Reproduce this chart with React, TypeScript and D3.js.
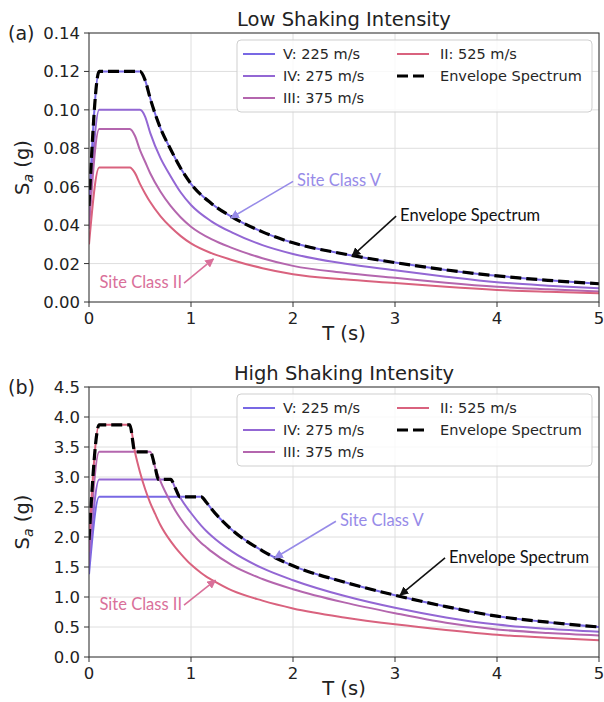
import React from 'react';
import * as d3 from 'd3';

// ---------- DATA ----------
const periodsLow = [0, 0.1, 0.2, 0.3, 0.4, 0.45, 0.5, 0.55, 0.6, 0.7, 0.8, 0.9, 1.0, 1.2, 1.4, 1.7, 2.0, 2.5, 3.0, 3.5, 4.0, 4.5, 5.0];
const lowV = [0.05, 0.12, 0.12, 0.12, 0.12, 0.12, 0.12, 0.1155, 0.106, 0.0905, 0.0795, 0.0695, 0.0615, 0.0513, 0.0443, 0.0365, 0.0308, 0.025, 0.0205, 0.0167, 0.0136, 0.0113, 0.0095];
const lowIV = [0.042, 0.1, 0.1, 0.1, 0.1, 0.1, 0.1, 0.0965, 0.088, 0.075, 0.0655, 0.057, 0.0505, 0.042, 0.0362, 0.0296, 0.025, 0.02, 0.0165, 0.0132, 0.0103, 0.0085, 0.0071];
const lowIII = [0.038, 0.09, 0.09, 0.09, 0.09, 0.0865, 0.079, 0.073, 0.067, 0.0575, 0.05, 0.044, 0.0392, 0.0327, 0.0282, 0.0228, 0.0188, 0.0152, 0.0126, 0.01, 0.0079, 0.0066, 0.0055];
const lowII = [0.03, 0.07, 0.07, 0.07, 0.07, 0.0672, 0.0615, 0.0565, 0.052, 0.0447, 0.039, 0.0343, 0.0305, 0.0254, 0.0219, 0.0176, 0.0145, 0.0118, 0.0099, 0.0079, 0.0063, 0.0053, 0.0045];
const envPeriodsLow = [0, 0.1, 0.2, 0.3, 0.4, 0.45, 0.5, 0.55, 0.6, 0.7, 0.8, 0.9, 1.0, 1.2, 1.4, 1.7, 2.0, 2.5, 3.0, 3.5, 4.0, 4.5, 5.0];
const envLow = [0.05, 0.12, 0.12, 0.12, 0.12, 0.12, 0.12, 0.1155, 0.106, 0.0905, 0.0795, 0.0695, 0.0615, 0.0513, 0.0443, 0.0365, 0.0308, 0.025, 0.0205, 0.0167, 0.0136, 0.0113, 0.0095];

const periodsHigh = [0, 0.1, 0.2, 0.3, 0.4, 0.45, 0.5, 0.55, 0.6, 0.65, 0.7, 0.8, 0.85, 0.9, 1.0, 1.1, 1.15, 1.2, 1.4, 1.7, 2.0, 2.5, 3.0, 3.5, 4.0, 4.5, 5.0];
const highV = [1.38, 2.67, 2.67, 2.67, 2.67, 2.67, 2.67, 2.67, 2.67, 2.67, 2.67, 2.67, 2.67, 2.67, 2.67, 2.67, 2.58, 2.47, 2.12, 1.77, 1.52, 1.25, 1.03, 0.84, 0.68, 0.58, 0.5];
const highIV = [1.55, 2.96, 2.96, 2.96, 2.96, 2.96, 2.96, 2.96, 2.96, 2.96, 2.96, 2.96, 2.8, 2.64, 2.4, 2.19, 2.1, 2.02, 1.76, 1.48, 1.28, 1.02, 0.82, 0.66, 0.54, 0.47, 0.42];
const highIII = [1.75, 3.42, 3.42, 3.42, 3.42, 3.42, 3.42, 3.42, 3.42, 3.15, 2.93, 2.58, 2.43, 2.3, 2.08, 1.9, 1.83, 1.76, 1.53, 1.3, 1.13, 0.91, 0.73, 0.57, 0.46, 0.4, 0.36];
const highII = [1.95, 3.87, 3.87, 3.87, 3.87, 3.42, 3.08, 2.8, 2.57, 2.38, 2.2, 1.93, 1.82, 1.72, 1.54, 1.4, 1.34, 1.29, 1.11, 0.94, 0.81, 0.66, 0.545, 0.45, 0.37, 0.32, 0.28];
const envPeriodsHigh = [0, 0.1, 0.4, 0.45, 0.6, 0.65, 0.68, 0.8, 0.85, 0.89, 1.1, 1.15, 1.2, 1.4, 1.7, 2.0, 2.5, 3.0, 3.5, 4.0, 4.5, 5.0];
const envHigh = [1.95, 3.87, 3.87, 3.42, 3.42, 3.15, 2.96, 2.96, 2.8, 2.67, 2.67, 2.58, 2.47, 2.12, 1.77, 1.52, 1.25, 1.03, 0.84, 0.68, 0.58, 0.5];

const seriesNames = ['V: 225 m/s', 'IV: 275 m/s', 'III: 375 m/s', 'II: 525 m/s'];
const seriesColors = ['#7868e4', '#9367d4', '#b466ae', '#d9627e'];
const envelopeName = 'Envelope Spectrum';

const xTicks = [0, 1, 2, 3, 4, 5];
const yTicksLow = [0, 0.02, 0.04, 0.06, 0.08, 0.1, 0.12, 0.14];
const yTicksHigh = [0, 0.5, 1.0, 1.5, 2.0, 2.5, 3.0, 3.5, 4.0, 4.5];

type Ann = { text: string; color: string; tx: number; ty: number; anchor: 'start' | 'end'; headT: number; headV: number };
const annotationsLow: Ann[] = [
  { text: 'Site Class V', color: '#978be8', tx: 2.04, ty: 0.0633, anchor: 'start', headT: 1.39, headV: 0.0437 },
  { text: 'Envelope Spectrum', color: '#111111', tx: 3.05, ty: 0.0452, anchor: 'start', headT: 2.58, headV: 0.0239 },
  { text: 'Site Class II', color: '#d9709a', tx: 0.912, ty: 0.0104, anchor: 'end', headT: 1.22, headV: 0.0224 },
];
const annotationsHigh: Ann[] = [
  { text: 'Site Class V', color: '#978be8', tx: 2.46, ty: 2.28, anchor: 'start', headT: 1.82, headV: 1.65 },
  { text: 'Envelope Spectrum', color: '#111111', tx: 3.53, ty: 1.67, anchor: 'start', headT: 3.05, headV: 1.03 },
  { text: 'Site Class II', color: '#d9709a', tx: 0.912, ty: 0.88, anchor: 'end', headT: 1.24, headV: 1.28 },
];

// ---------- LAYOUT ----------
const W = 604;
const H = 702;
const plotLeft = 89;
const plotRight = 599;
const FONT = 'DejaVu Sans, sans-serif';
const ANN_FONT = 'Lato, Open Sans, sans-serif';

type PanelProps = {
  top: number;
  bottom: number;
  yMax: number;
  yTicks: number[];
  yFmt: string;
  periods: number[];
  series: number[][];
  envPeriods: number[];
  env: number[];
  title: string;
  label: string;
  anns: Ann[];
  id: string;
};

function Panel(p: PanelProps) {
  const x = d3.scaleLinear().domain([0, 5]).range([plotLeft, plotRight]);
  const y = d3.scaleLinear().domain([0, p.yMax]).range([p.bottom, p.top]);
  const fmt = d3.format(p.yFmt);
  const line = d3
    .line<[number, number]>()
    .x((d) => x(d[0]))
    .y((d) => y(d[1]))
    .curve(d3.curveMonotoneX);
  const clipId = `clip-${p.id}`;

  const legW = 355;
  const legH = 72;
  const legX = plotRight - 7 - legW;
  const legY = p.top + 7;
  const rowY = [21, 43, 65].map((r) => p.top + r);
  const legendItems = [
    { name: seriesNames[0], color: seriesColors[0], col: 0, row: 0, dash: false },
    { name: seriesNames[1], color: seriesColors[1], col: 0, row: 1, dash: false },
    { name: seriesNames[2], color: seriesColors[2], col: 0, row: 2, dash: false },
    { name: seriesNames[3], color: seriesColors[3], col: 1, row: 0, dash: false },
    { name: envelopeName, color: '#000', col: 1, row: 1, dash: true },
  ];
  const colHandleX = [legX + 6, legX + 160];
  const colTextX = [legX + 46, legX + 203];

  return (
    <g>
      <defs>
        <clipPath id={clipId}>
          <rect x={plotLeft} y={p.top} width={plotRight - plotLeft} height={p.bottom - p.top} />
        </clipPath>
        {p.anns.map((a, i) => (
          <marker
            key={i}
            id={`arrow-${p.id}-${i}`}
            viewBox="0 0 10 10"
            refX={9}
            refY={5}
            markerWidth={9}
            markerHeight={9}
            markerUnits="userSpaceOnUse"
            orient="auto"
          >
            <path d="M0,0 L10,5 L0,10 Z" fill={a.color} />
          </marker>
        ))}
      </defs>
      {xTicks.map((t) => (
        <line key={`gx${t}`} x1={x(t)} x2={x(t)} y1={p.top} y2={p.bottom} stroke="#dedede" strokeWidth={1} />
      ))}
      {p.yTicks.map((t) => (
        <line key={`gy${t}`} x1={plotLeft} x2={plotRight} y1={y(t)} y2={y(t)} stroke="#dedede" strokeWidth={1} />
      ))}
      <g clipPath={`url(#${clipId})`}>
        {p.series.map((vals, i) => (
          <path
            key={i}
            d={line(p.periods.map((t, j) => [t, vals[j]] as [number, number])) || ''}
            fill="none"
            stroke={seriesColors[i]}
            strokeWidth={2}
          />
        ))}
        <path
          d={line(p.envPeriods.map((t, j) => [t, p.env[j]] as [number, number])) || ''}
          fill="none"
          stroke="#000"
          strokeWidth={3.2}
          strokeDasharray="11,5"
        />
      </g>
      <rect x={plotLeft} y={p.top} width={plotRight - plotLeft} height={p.bottom - p.top} fill="none" stroke="#333" strokeWidth={1} />
      {xTicks.map((t) => (
        <g key={`xt${t}`}>
          <line x1={x(t)} x2={x(t)} y1={p.bottom} y2={p.bottom + 5} stroke="#333" strokeWidth={1} />
          <text x={x(t)} y={p.bottom + 22} textAnchor="middle" fontFamily={FONT} fontSize={16.5} fill="#222">
            {t}
          </text>
        </g>
      ))}
      {p.yTicks.map((t) => (
        <g key={`yt${t}`}>
          <line x1={plotLeft - 5} x2={plotLeft} y1={y(t)} y2={y(t)} stroke="#333" strokeWidth={1} />
          <text x={plotLeft - 9} y={y(t) + 6} textAnchor="end" fontFamily={FONT} fontSize={16.5} fill="#222">
            {fmt(t)}
          </text>
        </g>
      ))}
      <text x={(plotLeft + plotRight) / 2} y={p.bottom + 38} textAnchor="middle" fontFamily={FONT} fontSize={19.5} fill="#222">
        T (s)
      </text>
      <text
        transform={`translate(29,${(p.top + p.bottom) / 2}) rotate(-90)`}
        textAnchor="middle"
        fontFamily={FONT}
        fontSize={19.5}
        fill="#222"
      >
        S
        <tspan fontStyle="italic" fontSize={14} dy={4}>
          a
        </tspan>
        <tspan dy={-4}> (g)</tspan>
      </text>
      <text x={(plotLeft + plotRight) / 2} y={p.top - 7} textAnchor="middle" fontFamily={FONT} fontSize={19.5} fill="#222">
        {p.title}
      </text>
      <text x={8} y={p.top + 7} fontFamily={FONT} fontSize={19} fill="#222">
        {p.label}
      </text>
      <rect x={legX} y={legY} width={legW} height={legH} rx={4} fill="#fff" fillOpacity={0.8} stroke="#cfcfcf" strokeWidth={1} />
      {legendItems.map((it, i) => (
        <g key={`lg${i}`}>
          <line
            x1={colHandleX[it.col]}
            x2={colHandleX[it.col] + 32}
            y1={rowY[it.row]}
            y2={rowY[it.row]}
            stroke={it.color}
            strokeWidth={it.dash ? 3.2 : 2}
            strokeDasharray={it.dash ? '11,5' : undefined}
          />
          <text x={colTextX[it.col]} y={rowY[it.row] + 5} fontFamily={FONT} fontSize={14.5} fill="#262626">
            {it.name}
          </text>
        </g>
      ))}
      {p.anns.map((a, i) => {
        const tx = x(a.tx);
        const ty = y(a.ty);
        const tailX = a.anchor === 'start' ? tx - 4 : tx + 2;
        return (
          <g key={`an${i}`}>
            <line
              x1={tailX}
              y1={ty + 1}
              x2={x(a.headT)}
              y2={y(a.headV)}
              stroke={a.color}
              strokeWidth={1.6}
              markerEnd={`url(#arrow-${p.id}-${i})`}
            />
            <text x={tx} y={ty + 6} textAnchor={a.anchor} fontFamily={ANN_FONT} fontSize={16.5} fill={a.color}>
              {a.text}
            </text>
          </g>
        );
      })}
    </g>
  );
}

export default function App() {
  return (
    <svg width={W} height={H} viewBox={`0 0 ${W} ${H}`} style={{ position: 'absolute', left: 0, top: 0, background: '#fff' }}>
      <rect width={W} height={H} fill="#fff" />
      <Panel
        id="low"
        top={33}
        bottom={302}
        yMax={0.14}
        yTicks={yTicksLow}
        yFmt=".2f"
        periods={periodsLow}
        series={[lowV, lowIV, lowIII, lowII]}
        envPeriods={envPeriodsLow}
        env={envLow}
        title="Low Shaking Intensity"
        label="(a)"
        anns={annotationsLow}
      />
      <Panel
        id="high"
        top={387}
        bottom={657}
        yMax={4.5}
        yTicks={yTicksHigh}
        yFmt=".1f"
        periods={periodsHigh}
        series={[highV, highIV, highIII, highII]}
        envPeriods={envPeriodsHigh}
        env={envHigh}
        title="High Shaking Intensity"
        label="(b)"
        anns={annotationsHigh}
      />
    </svg>
  );
}
